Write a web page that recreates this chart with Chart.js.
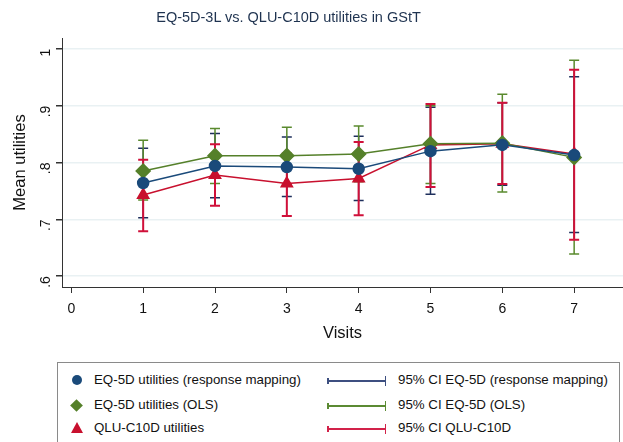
<!DOCTYPE html>
<html>
<head>
<meta charset="utf-8">
<script src="https://cdn.jsdelivr.net/npm/chart.js@4.4.1/dist/chart.umd.min.js"></script>
<style>
  body { margin: 0; background: #fff; font-family: "Liberation Sans", Arial, sans-serif; }
  #wrap { position: relative; width: 623px; height: 442px; overflow: hidden; }
  #title { position: absolute; top: 9px; left: 0; width: 577px; text-align: center; font-size: 14.5px; color: #1f3350; }
  #box { position: absolute; left: 0; top: 0; width: 623px; height: 360px; }
  #legend { position: absolute; left: 57px; top: 362px; width: 563px; height: 90px; border: 1px solid #8a8a8a; box-sizing: border-box; font-size: 13.3px; color: #111; }
  .it { position: absolute; white-space: nowrap; }
  .dot { position: absolute; width: 10px; height: 10px; border-radius: 50%; background: #1a4a7a; }
  .dia { position: absolute; width: 9px; height: 9px; background: #55802a; transform: rotate(45deg); }
  .tri { position: absolute; width: 0; height: 0; border-left: 6px solid transparent; border-right: 6px solid transparent; border-bottom: 11px solid #c8102e; }
  .ci { position: absolute; height: 2px; width: 59px; }
  .ci:before, .ci:after { content: ""; position: absolute; width: 1.5px; background: inherit; }
  .ci:before { left: 0; top: -2px; height: 6px; }
  .ci:after { right: 0; top: -4px; height: 10px; }
</style>
</head>
<body>
<div id="wrap">
  <div id="box"><canvas id="chart" width="623" height="360"></canvas></div>
  <div id="title">EQ-5D-3L vs. QLU-C10D utilities in GStT</div>
  <div id="legend">
    <div class="dot" style="left:14px;top:12px"></div>
    <div class="it" style="left:36px;top:9px">EQ-5D utilities (response mapping)</div>
    <div class="ci" style="left:269px;top:17px;background:#3d4f80"></div>
    <div class="it" style="left:340px;top:9px">95% CI EQ-5D (response mapping)</div>

    <div class="dia" style="left:14px;top:38px"></div>
    <div class="it" style="left:36px;top:34px">EQ-5D utilities (OLS)</div>
    <div class="ci" style="left:269px;top:42px;background:#5b8a33"></div>
    <div class="it" style="left:340px;top:34px">95% CI EQ-5D (OLS)</div>

    <div class="tri" style="left:13px;top:59px"></div>
    <div class="it" style="left:36px;top:57px">QLU-C10D utilities</div>
    <div class="ci" style="left:269px;top:65px;background:#d2224a"></div>
    <div class="it" style="left:340px;top:57px">95% CI QLU-C10D</div>
  </div>
</div>
<script>
// Visits and axis ticks
var visits = [1, 2, 3, 4, 5, 6, 7];
var xTicks = [0, 1, 2, 3, 4, 5, 6, 7];
var yTicks = [0.6, 0.7, 0.8, 0.9, 1.0];

// EQ-5D utilities (response mapping)
var eqRm   = [0.764, 0.794, 0.792, 0.789, 0.820, 0.831, 0.813];
var eqRmLo = [0.703, 0.738, 0.740, 0.733, 0.744, 0.760, 0.677];
var eqRmHi = [0.825, 0.851, 0.845, 0.846, 0.897, 0.905, 0.951];

// EQ-5D utilities (OLS)
var eqOls   = [0.785, 0.812, 0.812, 0.815, 0.833, 0.834, 0.809];
var eqOlsLo = [0.734, 0.763, 0.762, 0.766, 0.763, 0.748, 0.639];
var eqOlsHi = [0.839, 0.860, 0.862, 0.864, 0.900, 0.920, 0.980];

// QLU-C10D utilities
var qlu   = [0.743, 0.778, 0.763, 0.772, 0.831, 0.833, 0.815];
var qluLo = [0.679, 0.724, 0.706, 0.707, 0.757, 0.762, 0.664];
var qluHi = [0.805, 0.832, 0.816, 0.836, 0.903, 0.905, 0.963];

var blue = "#1a4a7a", green = "#55802a", red = "#c8102e";

function pts(vals) {
    return visits.map(function (v, i) { return {x: v, y: vals[i]}; });
}

var ciSets = [
    {lo: eqRmLo, hi: eqRmHi, color: "#1e2f5c", width: 1.5},
    {lo: eqOlsLo, hi: eqOlsHi, color: "#5a8a2e", width: 1.5},
    {lo: qluLo, hi: qluHi, color: "#d0103a", width: 2}
];

// error bars drawn through the chart scales
var ciPlugin = {
    id: "ci",
    beforeDatasetsDraw: function (chart) {
        var ctx = chart.ctx, x = chart.scales.x, y = chart.scales.y;
        ciSets.forEach(function (s) {
            ctx.save();
            ctx.strokeStyle = s.color;
            ctx.lineWidth = s.width;
            visits.forEach(function (v, i) {
                var px = x.getPixelForValue(v);
                var y1 = y.getPixelForValue(s.lo[i]);
                var y2 = y.getPixelForValue(s.hi[i]);
                ctx.beginPath();
                ctx.moveTo(px, y1); ctx.lineTo(px, y2);
                ctx.moveTo(px - 5, y1); ctx.lineTo(px + 5, y1);
                ctx.moveTo(px - 5, y2); ctx.lineTo(px + 5, y2);
                ctx.stroke();
            });
            ctx.restore();
        });
    }
};

var ctx = document.getElementById("chart");
var myChart = new Chart(ctx, {
    type: "line",
    data: {
        datasets: [{
            label: "EQ-5D utilities (response mapping)",
            data: pts(eqRm),
            borderColor: blue, backgroundColor: blue, borderWidth: 1.5,
            pointStyle: "circle", pointRadius: 5.5, clip: false
        }, {
            label: "EQ-5D utilities (OLS)",
            data: pts(eqOls),
            borderColor: green, backgroundColor: green, borderWidth: 1.5,
            pointStyle: "rectRot", pointRadius: 7, clip: false
        }, {
            label: "QLU-C10D utilities",
            data: pts(qlu),
            borderColor: red, backgroundColor: red, borderWidth: 1.5,
            pointStyle: "triangle", pointRadius: 6.5, clip: false
        }]
    },
    options: {
        responsive: false,
        animation: false,
        layout: {autoPadding: false, padding: {top: 38, bottom: 8, left: 0, right: 0}},
        plugins: {legend: {display: false}, tooltip: {enabled: false}},
        scales: {
            x: {
                type: "linear", min: -0.13, max: 7.68,
                afterBuildTicks: function (s) { s.ticks = xTicks.map(function (v) { return {value: v}; }); },
                afterFit: function (s) { s.height = 65; },
                grid: {drawOnChartArea: false, tickLength: 6, tickColor: "#333"},
                border: {color: "#333", width: 1},
                ticks: {color: "#111", font: {size: 14, family: "Liberation Sans"}, padding: 8},
                title: {display: true, text: "Visits", color: "#111", font: {size: 16.5, family: "Liberation Sans"}, padding: {top: 0, bottom: 9}}
            },
            y: {
                min: 0.581, max: 1.019,
                afterBuildTicks: function (s) { s.ticks = yTicks.map(function (v) { return {value: v}; }); },
                afterFit: function (s) { s.width = 62; },
                grid: {color: "#e9f1f3", lineWidth: 1.5, tickLength: 6, tickColor: "#333"},
                border: {color: "#333", width: 1},
                ticks: {
                    color: "#111", font: {size: 14, family: "Liberation Sans"}, padding: 10,
                    minRotation: 90, maxRotation: 90,
                    callback: function (v) { return v >= 1 ? "1" : ("." + Math.round(v * 10)); }
                },
                title: {display: true, text: "Mean utilities", color: "#111", font: {size: 16.5, family: "Liberation Sans"}, padding: {top: 11}}
            }
        }
    },
    plugins: [ciPlugin]
});
</script>
</body>
</html>
